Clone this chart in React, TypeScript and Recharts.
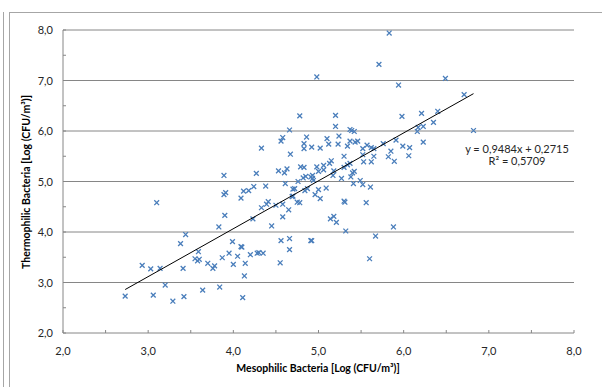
import React from 'react';
import { ScatterChart, Scatter, XAxis, YAxis, CartesianGrid } from 'recharts';

const mesophilic = [
  3.89, 3.89, 3.91, 3.10, 3.90, 3.83, 3.44, 3.38, 3.99, 3.59, 3.95, 3.55, 3.58, 3.60, 3.87, 2.93, 3.03, 3.14, 3.41, 3.70,
  3.78, 3.76, 4.00, 3.20, 2.73, 3.06, 3.29, 3.42, 3.64, 3.84,
  4.27, 4.53, 4.60, 4.63, 4.79, 4.83, 4.98, 5.06, 5.13, 5.15, 4.82, 4.85, 4.91, 4.93, 4.93, 5.00, 5.06, 5.18, 5.17, 5.27,
  5.30, 5.34, 5.37, 5.40, 5.42, 5.38, 4.76, 4.61, 4.94, 5.41, 4.24, 4.18, 4.12, 4.38, 4.09, 4.72, 4.70, 4.87, 4.84, 5.09,
  5.00, 4.70, 4.69, 4.96, 5.02, 4.41, 4.39, 4.75, 4.78, 4.50, 4.58, 5.30, 5.31, 4.33, 4.65, 4.58, 4.23, 5.14, 5.18, 5.21,
  4.45, 5.32, 4.10, 4.09, 4.56, 4.66, 4.91, 4.92, 4.66, 4.05, 4.20, 4.28, 4.30, 4.35, 4.14, 4.55, 4.13, 4.11,
  5.53, 5.62, 5.89, 5.49, 5.52, 5.61, 5.56, 5.88, 5.67, 5.60,
  4.98, 4.78, 5.20, 4.66, 5.20, 5.37, 5.39, 5.42, 4.58, 4.56, 4.86, 5.10, 5.24, 4.83, 5.12, 5.23, 5.37, 5.43, 5.34, 4.33,
  4.83, 4.92, 5.02, 4.67, 5.30,
  5.83, 5.71, 5.94, 6.49, 6.71, 6.21, 6.40, 5.98, 6.35, 6.17, 6.23, 6.16, 6.82, 5.46, 5.91, 5.76, 6.23, 5.57, 5.52, 5.62,
  5.65, 5.99, 6.07, 5.85, 5.52, 5.65, 5.82, 6.06,
];

const thermophilic = [
  5.12, 4.74, 4.78, 4.58, 4.33, 4.10, 3.95, 3.77, 3.81, 3.61, 3.58, 3.47, 3.43, 3.46, 3.49, 3.34, 3.27, 3.28, 3.28, 3.38,
  3.33, 3.28, 3.36, 2.95, 2.73, 2.75, 2.63, 2.72, 2.85, 2.91,
  5.16, 5.21, 5.17, 5.25, 5.29, 5.28, 5.29, 5.32, 5.36, 5.41, 5.07, 5.10, 5.09, 5.12, 5.06, 5.20, 5.23, 5.21, 5.12, 5.06,
  5.28, 5.33, 5.36, 5.17, 5.20, 5.09, 5.00, 4.96, 5.02, 4.96, 4.90, 4.82, 4.81, 4.91, 4.67, 4.86, 4.85, 4.86, 4.82, 4.87,
  4.84, 4.71, 4.70, 4.74, 4.66, 4.60, 4.55, 4.59, 4.58, 4.53, 4.55, 4.61, 4.59, 4.48, 4.44, 4.30, 4.26, 4.26, 4.31, 4.19,
  4.12, 4.02, 3.70, 3.71, 3.83, 3.87, 3.83, 3.83, 3.65, 3.52, 3.55, 3.58, 3.59, 3.58, 3.38, 3.39, 3.13, 2.70,
  5.39, 5.39, 5.40, 5.02, 4.94, 4.89, 4.58, 4.10, 3.92, 3.47,
  7.07, 6.30, 6.31, 6.02, 6.09, 6.03, 6.01, 5.99, 5.87, 5.80, 5.88, 5.85, 5.90, 5.75, 5.74, 5.74, 5.80, 5.78, 5.70, 5.66,
  5.65, 5.68, 5.66, 5.54, 5.50,
  7.94, 7.32, 6.91, 7.04, 6.72, 6.35, 6.39, 6.29, 6.17, 6.07, 6.09, 5.99, 6.01, 5.80, 5.82, 5.75, 5.78, 5.72, 5.65, 5.67,
  5.65, 5.70, 5.67, 5.60, 5.53, 5.50, 5.49, 5.51,
];

const slope = 0.9484;
const intercept = 0.2715;
const trendX = [2.73, 6.82];
const axisTicks = [2, 2.5, 3, 3.5, 4, 4.5, 5, 5.5, 6, 6.5, 7, 7.5, 8];
const gridValues = [3, 4, 5, 6, 7, 8];
const equationText = 'y = 0,9484x + 0,2715';
const r2Text = 'R² = 0,5709';
const xTitle = 'Mesophilic Bacteria [Log (CFU/m³)]';
const yTitle = 'Thermophilic Bacteria [Log (CFU/m³)]';

const points = mesophilic.map((x, i) => ({ x, y: thermophilic[i] }));
const trendData = trendX.map((x) => ({ x, y: slope * x + intercept }));

const AXIS = '#868686';
const BLUE = '#4A7EBB';
const FONT = 'Lato, "Open Sans", sans-serif';

const fmt = (v: number) => v.toFixed(1).replace('.', ',');

const XTick = (props: any) => {
  const { x, y, payload } = props;
  const v = payload.value as number;
  return (
    <g>
      <line x1={x} x2={x} y1={y} y2={y - 3} stroke={AXIS} strokeWidth={1} />
      {Number.isInteger(v) && (
        <text x={x} y={y + 22} textAnchor="middle" fontSize={11} fill="#262626" fontFamily={FONT}>
          {fmt(v)}
        </text>
      )}
    </g>
  );
};

const YTick = (props: any) => {
  const { x, y, payload } = props;
  const v = payload.value as number;
  return (
    <g>
      <line x1={x} x2={x + 3} y1={y} y2={y} stroke={AXIS} strokeWidth={1} />
      {Number.isInteger(v) && (
        <text x={x - 10} y={y + 4} textAnchor="end" fontSize={11} fill="#262626" fontFamily={FONT}>
          {fmt(v)}
        </text>
      )}
    </g>
  );
};

const XMark = (props: any) => {
  const { cx, cy } = props;
  if (cx == null || cy == null) return <g />;
  const s = 2.4;
  return (
    <path
      d={`M${cx - s},${cy - s}L${cx + s},${cy + s}M${cx - s},${cy + s}L${cx + s},${cy - s}`}
      stroke={BLUE}
      strokeWidth={1.3}
      fill="none"
    />
  );
};

const NoMark = () => <g />;

export default function App() {
  return (
    <div
      style={{
        position: 'absolute',
        left: 0,
        top: 0,
        width: 602,
        height: 387,
        background: '#fff',
        overflow: 'hidden',
        fontFamily: FONT,
      }}
    >
      <div style={{ position: 'absolute', left: 3, top: 12, width: 1, height: 400, background: '#a6a6a6' }} />
      <div
        style={{
          position: 'absolute',
          left: 9,
          top: 12,
          width: 640,
          height: 420,
          border: '1px solid #a6a6a6',
          boxSizing: 'border-box',
        }}
      />
      <div style={{ position: 'absolute', left: 0, top: 0 }}>
        <ScatterChart width={602} height={387} margin={{ top: 30, right: 28, bottom: 24, left: 13 }}>
          <CartesianGrid vertical={false} horizontalValues={gridValues} stroke={AXIS} strokeWidth={1} />
          <XAxis
            type="number"
            dataKey="x"
            domain={[2, 8]}
            ticks={axisTicks}
            interval={0}
            height={30}
            tickSize={0}
            tickMargin={0}
            tickLine={false}
            axisLine={{ stroke: AXIS }}
            tick={<XTick />}
            allowDataOverflow
          />
          <YAxis
            type="number"
            dataKey="y"
            domain={[2, 8]}
            ticks={axisTicks}
            interval={0}
            width={50}
            tickSize={0}
            tickMargin={0}
            tickLine={false}
            axisLine={{ stroke: AXIS }}
            tick={<YTick />}
            allowDataOverflow
          />
          <Scatter data={points} shape={<XMark />} isAnimationActive={false} />
          <Scatter
            data={trendData}
            line={{ stroke: '#000', strokeWidth: 1 }}
            shape={<NoMark />}
            isAnimationActive={false}
          />
        </ScatterChart>
      </div>
      <div
        style={{
          position: 'absolute',
          left: 437,
          top: 143,
          width: 160,
          textAlign: 'center',
          fontSize: 11,
          lineHeight: '12px',
          color: '#262626',
        }}
      >
        <div>{equationText}</div>
        <div>{r2Text}</div>
      </div>
      <div
        style={{
          position: 'absolute',
          left: 118,
          top: 361,
          width: 400,
          textAlign: 'center',
          fontSize: 10.5,
          fontWeight: 700,
          color: '#000',
          lineHeight: '14px',
        }}
      >
        {xTitle}
      </div>
      <div
        style={{
          position: 'absolute',
          left: 26 - 150,
          top: 182 - 7,
          width: 300,
          textAlign: 'center',
          fontSize: 10.5,
          fontWeight: 700,
          color: '#000',
          lineHeight: '14px',
          transform: 'rotate(-90deg)',
          transformOrigin: '150px 7px',
        }}
      >
        {yTitle}
      </div>
    </div>
  );
}
